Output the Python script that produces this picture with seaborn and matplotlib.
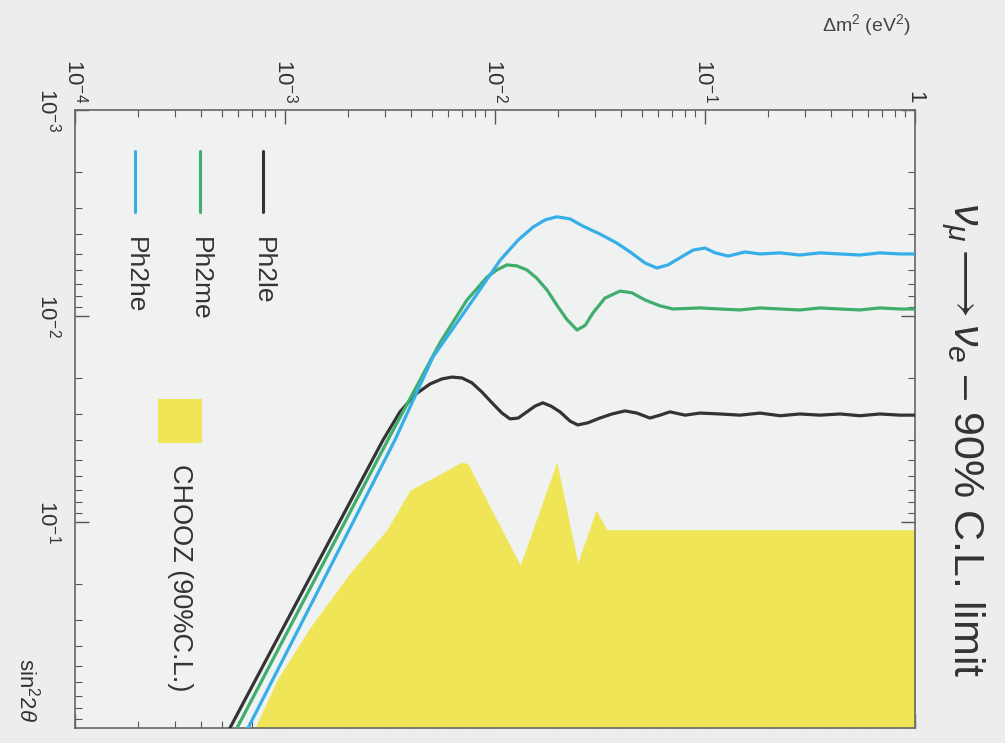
import matplotlib
matplotlib.use("Agg")
import matplotlib.pyplot as plt
import seaborn as sns

dm_le = [5.47e-4, 2.93e-3, 3.53e-3, 4.16e-3, 4.90e-3, 5.60e-3, 6.24e-3, 6.97e-3, 7.76e-3,
         8.67e-3, 9.68e-3, 0.0108, 0.0118, 0.0129, 0.0142, 0.0155, 0.0169, 0.0185, 0.0204,
         0.0228, 0.0248, 0.0277, 0.0316, 0.0361, 0.0416, 0.0474, 0.0547, 0.0611, 0.0681,
         0.0804, 0.0946, 0.118, 0.147, 0.183, 0.228, 0.283, 0.353, 0.440, 0.547, 0.681,
         0.849, 1.0]
s_le = [1.0, 0.0400, 0.0292, 0.0241, 0.0214, 0.0202, 0.0198, 0.0200, 0.0211,
        0.0234, 0.0264, 0.0296, 0.0316, 0.0313, 0.0292, 0.0274, 0.0264, 0.0274, 0.0292,
        0.0324, 0.0338, 0.0330, 0.0313, 0.0299, 0.0289, 0.0296, 0.0313, 0.0303, 0.0292,
        0.0303, 0.0296, 0.0299, 0.0303, 0.0296, 0.0305, 0.0299, 0.0303, 0.0299, 0.0305, 0.0299,
        0.0303, 0.0303]

dm_me = [5.91e-4, 3.09e-3, 5.47e-3, 7.36e-3, 9.16e-3, 0.0102, 0.0114, 0.0127, 0.0142,
         0.0158, 0.0177, 0.0197, 0.0220, 0.0246, 0.0269, 0.0293, 0.0334, 0.0394, 0.0449,
         0.0518, 0.0611, 0.0705, 0.0946, 0.118, 0.147, 0.183, 0.228, 0.283, 0.353, 0.440,
         0.547, 0.681, 0.849, 1.0]
s_me = [1.0, 0.0400, 0.0135, 8.36e-3, 6.48e-3, 5.98e-3, 5.65e-3, 5.71e-3, 5.98e-3,
        6.55e-3, 7.48e-3, 8.85e-3, 0.0104, 0.0117, 0.0111, 9.66e-3, 8.19e-3, 7.57e-3, 7.72e-3,
        8.36e-3, 8.93e-3, 9.25e-3, 9.14e-3, 9.25e-3, 9.35e-3, 9.14e-3, 9.25e-3, 9.35e-3, 9.14e-3,
        9.25e-3, 9.35e-3, 9.14e-3, 9.25e-3, 9.25e-3]

dm_he = [6.67e-4, 3.34e-3, 5.07e-3, 7.85e-3, 0.0106, 0.0129, 0.0152, 0.0173, 0.0197,
         0.0228, 0.0262, 0.0316, 0.0381, 0.0440, 0.0518, 0.0590, 0.0667, 0.0760, 0.0877,
         0.100, 0.112, 0.129, 0.155, 0.183, 0.228, 0.283, 0.353, 0.440, 0.547, 0.681,
         0.849, 1.0]
s_he = [1.0, 0.0400, 0.0158, 8.36e-3, 5.35e-3, 4.28e-3, 3.70e-3, 3.42e-3, 3.30e-3,
        3.38e-3, 3.66e-3, 4.00e-3, 4.43e-3, 4.89e-3, 5.53e-3, 5.85e-3, 5.65e-3, 5.22e-3, 4.79e-3,
        4.68e-3, 4.94e-3, 5.12e-3, 4.89e-3, 5.00e-3, 4.94e-3, 5.06e-3, 4.94e-3, 5.00e-3, 5.06e-3,
        4.94e-3, 5.00e-3, 5.00e-3]

dm_chooz = [7.20e-4, 9.16e-4, 1.32e-3, 2.04e-3, 3.06e-3, 3.94e-3, 5.07e-3, 6.97e-3, 7.43e-3,
            0.0132, 0.0197, 0.0248, 0.0303, 0.0341, 1.0]
s_chooz = [1.0, 0.585, 0.324, 0.177, 0.109, 0.0700, 0.0611, 0.0512, 0.0522,
           0.162, 0.0512, 0.158, 0.0875, 0.109, 0.109]

series = [("Ph2le", dm_le, s_le, "#333333"),
          ("Ph2me", dm_me, s_me, "#3fae6c"),
          ("Ph2he", dm_he, s_he, "#36aee8")]
chooz_color = "#efe557"

sns.set_theme(style="ticks")
plt.rcParams['font.family'] = ['Liberation Sans', 'DejaVu Sans']
plt.rcParams['mathtext.fontset'] = 'custom'
plt.rcParams['mathtext.rm'] = 'Liberation Sans'
plt.rcParams['mathtext.it'] = 'Liberation Sans:italic'

fig = plt.figure(figsize=(10.05, 7.43), dpi=100, facecolor="#ecedec")
ax = fig.add_axes([0.0746, 0.0202, 0.8358, 0.8318])
ax.set_facecolor("#f0f1f1")

ax.fill_between(dm_chooz, s_chooz, 1.0, color=chooz_color, linewidth=0, zorder=1)
for name, dm, s, col in series:
    sns.lineplot(x=dm, y=s, ax=ax, color=col, linewidth=2.3, sort=False,
                 estimator=None, zorder=3)

ax.set_xscale("log")
ax.set_yscale("log")
ax.set_xlim(1e-4, 1)
ax.set_ylim(1, 1e-3)

ax.xaxis.tick_top()
ax.set_xticks([1e-4, 1e-3, 1e-2, 1e-1, 1])
ax.set_xticklabels([r"$10^{-4}$", r"$10^{-3}$", r"$10^{-2}$", r"$10^{-1}$", "1"],
                   rotation=-90, fontsize=16, color="#333333")
ax.set_yticks([1e-3, 1e-2, 1e-1])
ax.set_yticklabels([r"$10^{-3}$", r"$10^{-2}$", r"$10^{-1}$"],
                   rotation=-90, fontsize=16, color="#333333", va="center")
ax.tick_params(which="both", direction="in", top=True, bottom=True, left=True, right=True,
               color="#555555")
ax.tick_params(axis="x", which="major", pad=5)
ax.tick_params(axis="y", which="major", pad=10)
ax.tick_params(which="major", length=10, width=1.0)
ax.tick_params(which="minor", length=5, width=0.8)
for sp in ax.spines.values():
    sp.set_color("#666666")
    sp.set_linewidth(1.2)
ax.set_xlabel("")
ax.set_ylabel("")

# legend, drawn turned like the rest of the picture
leg_x = [0.224, 0.149, 0.071]
for (name, dm, s, col), lx in zip(series, leg_x):
    ax.plot([lx, lx], [0.933, 0.835], transform=ax.transAxes, color=col, linewidth=2.2)
    ax.text(lx, 0.795, name, transform=ax.transAxes, rotation=-90, ha="center", va="top",
            fontsize=19, color="#333333")
ax.add_patch(plt.Rectangle((0.099, 0.461), 0.052, 0.071, transform=ax.transAxes,
                           color=chooz_color, linewidth=0))
ax.text(0.125, 0.427, "CHOOZ (90%C.L.)", transform=ax.transAxes, rotation=-90,
        ha="center", va="top", fontsize=19.5, color="#333333")

fig.text(0.957, 0.408, r"$\nu_\mu \longrightarrow \nu_e$ – 90% C.L. limit", rotation=-90,
         ha="center", va="center", fontsize=31, color="#333333")
fig.text(0.862, 0.966, r"$\Delta$m$^2$ (eV$^2$)", ha="center", va="center",
         fontsize=14, color="#444444")
fig.text(0.027, 0.071, r"sin$^2$2$\theta$", rotation=-90, ha="center", va="center",
         fontsize=16, color="#333333")

fig.savefig("out.png", dpi=100, facecolor=fig.get_facecolor())
